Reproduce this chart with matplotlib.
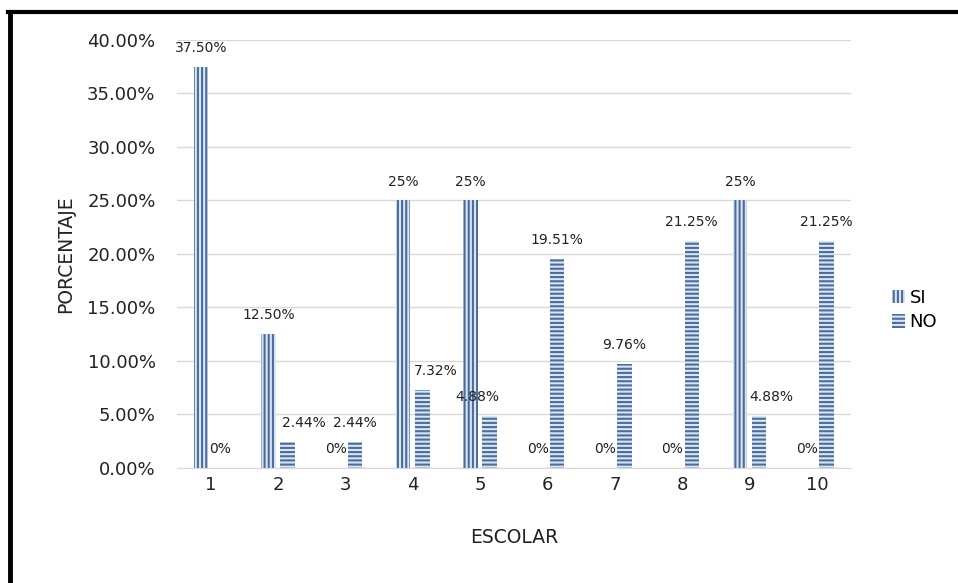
import numpy as np
import matplotlib
matplotlib.use("Agg")
import matplotlib.pyplot as plt
from matplotlib.lines import Line2D

# Survey results per school question (fraction of answers)
categories = ["1", "2", "3", "4", "5", "6", "7", "8", "9", "10"]
si_values = [0.375, 0.125, 0.0, 0.25, 0.25, 0.0, 0.0, 0.0, 0.25, 0.0]
no_values = [0.0, 0.0244, 0.0244, 0.0732, 0.0488, 0.1951, 0.0976, 0.2125, 0.0488, 0.2125]
si_labels = ["37.50%", "12.50%", "0%", "25%", "25%", "0%", "0%", "0%", "25%", "0%"]
no_labels = ["0%", "2.44%", "2.44%", "7.32%", "4.88%", "19.51%", "9.76%", "21.25%", "4.88%", "21.25%"]

# small horizontal nudges (points) for labels that were moved by hand
no_nudge = [0, 12, 0, 10, -9, 0, 0, 0, 9, 0]

font = "DejaVu Sans"
dark = "#4a6d9f"
light = "#dbe5f1"

plt.rcParams["hatch.linewidth"] = 1.5
plt.rcParams["font.family"] = font

fig = plt.figure(figsize=(9.58, 5.83), dpi=100)
ax = fig.add_axes([0.1848, 0.1973, 0.703, 0.7341])

x = np.arange(len(categories))
w = 0.215
off = 0.1425

si_bars = ax.bar(x - off, si_values, w, color=light, edgecolor=dark,
                 linewidth=0, hatch="||||", label="SI")
no_bars = ax.bar(x + off, no_values, w, color=light, edgecolor=dark,
                 linewidth=0, hatch="----", label="NO")

for i in range(len(categories)):
    ax.annotate(si_labels[i], (x[i] - off, si_values[i]), xytext=(0, 13.5),
                textcoords="offset points", ha="center", va="center",
                fontsize=10, color="#222222")
    ax.annotate(no_labels[i], (x[i] + off, no_values[i]), xytext=(no_nudge[i], 13.5),
                textcoords="offset points", ha="center", va="center",
                fontsize=10, color="#222222")

ax.set_xlim(-0.5, len(categories) - 0.5)
ax.set_ylim(0, 0.40)
ax.set_yticks(np.arange(0, 0.401, 0.05))
ax.set_yticklabels(["%.2f%%" % (v * 100) for v in np.arange(0, 0.401, 0.05)])
ax.set_xticks(x)
ax.set_xticklabels(categories)
ax.tick_params(length=0, labelsize=13, labelcolor="#222222")
ax.tick_params(axis="x", pad=6)
ax.tick_params(axis="y", pad=15.5)

ax.grid(axis="y", color="#d9d9d9", linewidth=1)
ax.set_axisbelow(True)
for side in ["top", "right", "left"]:
    ax.spines[side].set_visible(False)
ax.spines["bottom"].set_color("#d9d9d9")

ax.set_xlabel("ESCOLAR", fontsize=13.5, labelpad=24, color="#222222")
ax.set_ylabel("PORCENTAJE", fontsize=13.5, labelpad=9, color="#222222")

fig.legend(handles=[si_bars, no_bars], loc="center left",
           bbox_to_anchor=(876 / 958, 1 - 310 / 583), frameon=False,
           prop={"size": 13}, handlelength=0.7,
           handleheight=0.8, handletextpad=0.25, labelspacing=0.35)

# black frame on the top and left edges
fig.add_artist(Line2D([8 / 958, 1], [1 - 12 / 583, 1 - 12 / 583],
                      transform=fig.transFigure, color="black", linewidth=3))
fig.add_artist(Line2D([10 / 958, 10 / 958], [0, 1 - 12 / 583],
                      transform=fig.transFigure, color="black", linewidth=3.5))

fig.savefig("out.png", dpi=100)
